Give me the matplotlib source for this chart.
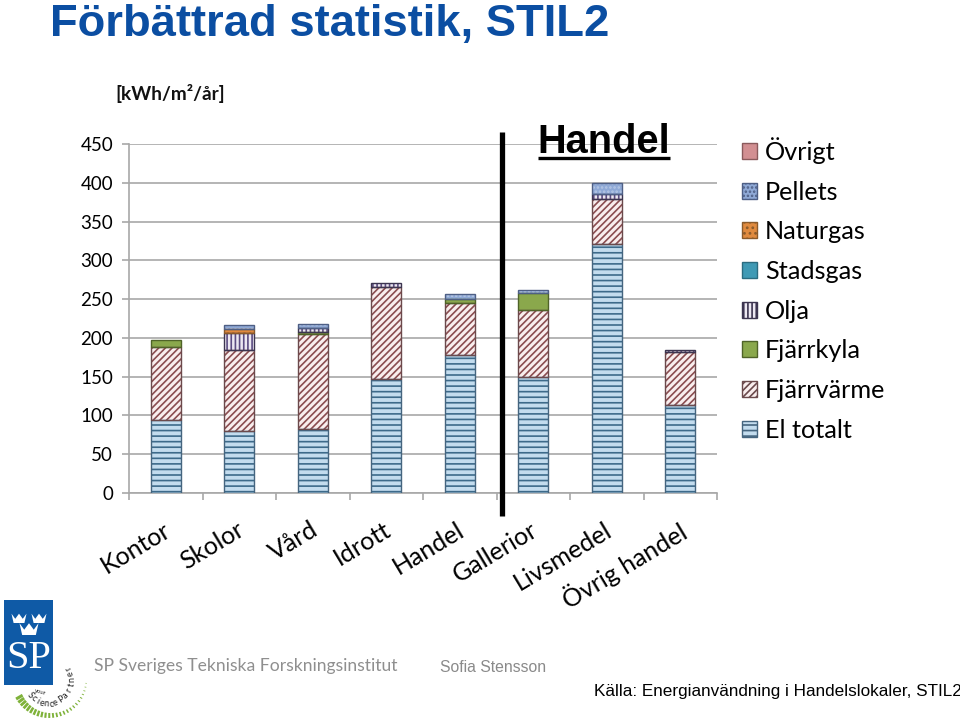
import matplotlib
matplotlib.use('Agg')
import matplotlib.pyplot as plt
from matplotlib.transforms import ScaledTranslation
import numpy as np
from matplotlib.patches import Patch, Rectangle, Polygon

categories=['Kontor','Skolor','Vård','Idrott','Handel','Gallerior','Livsmedel','Övrig handel']
y_ticks=[0,50,100,150,200,250,300,350,400,450]

# kWh/m2/år
el_totalt=[94,80,82,147,178,150,321,114]
fjarrvarme=[94,104,123,118,67,86,58,68]
fjarrkyla=[9,0,3,0,5,22,0,0]
olja=[0,22,5,6,0,0,6,2]
stadsgas=[0,0,0,0,0,0,0,0]
naturgas=[0,5,0,0,0,0,0,0]
pellets=[0,5,5,0,6,4,15,0]
ovrigt=[0,0,0,0,0,0,0,0]

names=['El totalt','Fjärrvärme','Fjärrkyla','Olja','Stadsgas','Naturgas','Pellets','Övrigt']
series=[el_totalt,fjarrvarme,fjarrkyla,olja,stadsgas,naturgas,pellets,ovrigt]
faces=['#c3dcee','#f9eeee','#8aa84c','#ece8f2','#3f9ab5','#e08a3e','#8fa9d6','#d28f92']
hatch_colors=['#3d6a8a','#8a4d50','#8aa84c','#5c4d82','#3f9ab5','#c9752c','#b4c6e4','#d28f92']
edges=['#45657f','#6b4a4c','#4f6328','#3c3550','#2b6c80','#8a5a2a','#4e5f85','#8a5a5c']
hatches=['---','/////','','||||','','...','....','']

plt.rcParams['font.family']=['Lato','DejaVu Sans']
plt.rcParams['hatch.linewidth']=1.2

W,H=960,725
fig=plt.figure(figsize=(W/100,H/100),dpi=100,facecolor='white')
ax=fig.add_axes([129/W,(H-493)/H,588/W,349/H])

x=np.arange(len(categories))+0.5
bottom=np.zeros(len(categories))
handles=[]
for i in range(len(series)):
    vals=np.array(series[i],dtype=float)
    m=vals>0
    ax.bar(x[m],vals[m],0.41,bottom=bottom[m],color=faces[i],edgecolor=hatch_colors[i],hatch=hatches[i],linewidth=0,zorder=3)
    ax.bar(x[m],vals[m],0.41,bottom=bottom[m],fill=False,edgecolor=edges[i],linewidth=1.0,zorder=4)
    handles.append(Patch(facecolor=faces[i],edgecolor=edges[i],hatch=hatches[i],linewidth=1.0))
    bottom=bottom+vals

ax.set_xlim(0,8)
ax.set_ylim(0,450)
ax.set_yticks(y_ticks)
ax.set_yticklabels([str(v) for v in y_ticks],fontsize=13.5)
ax.set_xticks(x)
ax.set_xticklabels(categories,fontsize=18,rotation=31,ha='right',va='top',rotation_mode='anchor')
ax.set_xticks(np.arange(9),minor=True)
ax.tick_params(axis='x',which='major',length=0,pad=18)
ax.tick_params(axis='x',which='minor',length=5,color='#a8a8a8',width=1.2)
ax.tick_params(axis='y',length=5,color='#a8a8a8',width=1.2,pad=6.5)
for lab in ax.get_xticklabels():
    lab.set_transform(lab.get_transform()+ScaledTranslation(-3/100,0,fig.dpi_scale_trans))
ax.grid(axis='y',color='#b4b4b4',linewidth=1.4,zorder=0)
ax.set_axisbelow(True)
for s in ['top','right']:
    ax.spines[s].set_visible(False)
for s in ['left','bottom']:
    ax.spines[s].set_color('#a8a8a8')
    ax.spines[s].set_linewidth(1.2)

leg=fig.legend(handles[::-1],names[::-1],loc='upper left',bbox_to_anchor=(732/W,1-127/H),frameon=False,
    fontsize=18.2,handlelength=0.6,handleheight=0.6,handletextpad=0.31,labelspacing=0.66,borderpad=0.4,borderaxespad=0)

# pixel overlay for the slide furniture
ov=fig.add_axes([0,0,1,1],zorder=10)
ov.set_xlim(0,W)
ov.set_ylim(H,0)
ov.axis('off')
ov.patch.set_alpha(0)

ov.text(50,36,'Förbättrad statistik, STIL2',family='Liberation Sans',weight='bold',fontsize=32.7,color='#0b4ea2',va='baseline')
ov.text(115,100,'[kWh/m²/år]',weight='bold',fontsize=13.7,color='#111111',va='baseline')
ov.plot([502,502],[132,516],color='black',lw=3.8,solid_capstyle='butt')
ov.text(604,153,'Handel',family='Liberation Sans',fontsize=28.6,color='black',ha='center',va='baseline',weight='bold')
ov.plot([538,670],[158,158],color='black',lw=2.4,solid_capstyle='butt')

ov.text(440,672,'Sofia Stensson',family='Liberation Sans',fontsize=11.3,color='#8a8a8a',va='baseline')
ov.text(594,696,'Källa: Energianvändning i Handelslokaler, STIL2',family='Liberation Sans',fontsize=12.3,color='black',va='baseline')
ov.text(94,671,'SP Sveriges Tekniska Forskningsinstitut',fontsize=12.6,color='#8f8f8f',va='baseline')

# logo
blue='#0f5aa6'
ov.add_patch(Rectangle((4,600),49,85,color=blue,lw=0))
def crown(cx,cy,w):
    h=w*0.62
    pts=[(cx-w/2,cy-h),(cx-w/4,cy-h*0.45),(cx,cy-h),(cx+w/4,cy-h*0.45),(cx+w/2,cy-h),(cx+w*0.36,cy),(cx-w*0.36,cy)]
    ov.add_patch(Polygon(pts,closed=True,color='white',lw=0))
crown(19,623,15)
crown(39,623,15)
crown(29,635,19)
ov.text(28.5,668,'SP',family='Liberation Serif',fontsize=29,color='white',ha='center',va='baseline')

cx,cy,r=49,680,38
for a in np.linspace(150,5,25):
    t=np.radians(a)
    frac=(a-5)/145.0
    ln=1.5+6*frac
    wd=0.4+1.8*frac
    ov.plot([cx+r*np.cos(t),cx+(r-ln)*np.cos(t)],[cy+r*np.sin(t),cy+(r-ln)*np.sin(t)],color='#7fb23a',lw=wd,solid_capstyle='butt')
def arc_text(s,a0,step,rad,size):
    for j,ch in enumerate(s):
        a=np.radians(a0-j*step)
        ov.text(cx+rad*np.cos(a),cy+rad*np.sin(a),ch,fontsize=size,color='#222222',ha='center',va='center',rotation=90-np.degrees(a),rotation_mode='anchor')
arc_text('Science',140,11,24,6.5)
arc_text('Partner',58,15,23,6.5)
ov.text(40,692,'your',fontsize=4.2,color='#222222',ha='center',va='center',rotation=-15)

fig.savefig('out.png',dpi=100)
